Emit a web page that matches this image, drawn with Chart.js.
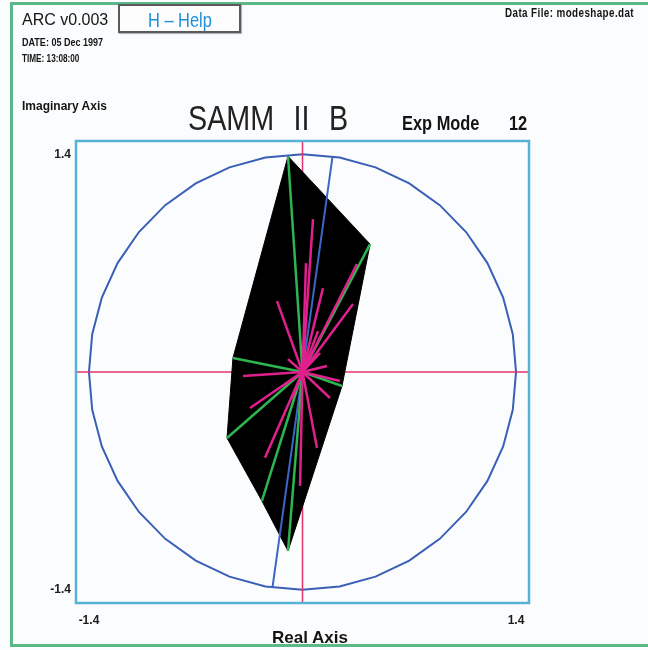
<!DOCTYPE html>
<html>
<head>
<meta charset="utf-8">
<title>SAMM II B - Exp Mode 12</title>
<script src="https://cdn.jsdelivr.net/npm/chart.js@4/dist/chart.umd.min.js"></script>
<style>
  html, body { margin: 0; padding: 0; background: #fbfcfd; }
  #wrap { position: relative; width: 648px; height: 650px; overflow: hidden; background: #fbfcfd; }
  #frame { position: absolute; left: 10px; top: 2px; width: 700px; height: 639px;
           border: 3px solid #5cb888; border-right: none; }
  #plot { position: absolute; left: 0; top: 0; }
  .t { position: absolute; white-space: pre; line-height: 1; color: #141414;
       font-family: "Liberation Sans", Arial, sans-serif; }
  .n { transform: scaleX(0.82); transform-origin: 0 0; }
  .b { font-weight: bold; }
  #help { position: absolute; left: 118px; top: 4px; width: 119px; height: 25px;
          border: 2px solid #5a5a5a; background: #fdfdfe; box-shadow: 1px 1px 1px #b8b8b8;
          display: flex; justify-content: center; align-items: flex-start; }
  #help span { display: inline-block; margin-top: 4px; transform: scaleX(0.82); transform-origin: 50% 0;
               font-family: "Liberation Sans", Arial, sans-serif;
               font-size: 20px; line-height: 1; color: #1f8fd8; white-space: pre; }
</style>
</head>
<body>
<div id="wrap">
  <div id="frame"></div>
  <canvas id="plot" width="648" height="650"></canvas>

  <div class="t" style="left:22px;top:12px;font-size:16px;">ARC v0.003</div>
  <div id="help"><span>H – Help</span></div>
  <div class="t n b" style="left:22px;top:37px;font-size:11px;">DATE: 05 Dec 1997</div>
  <div class="t n b" style="left:22px;top:54px;font-size:10px;">TIME: 13:08:00</div>
  <div class="t n b" style="left:505px;top:7px;font-size:12px;letter-spacing:0.5px;">Data File: modeshape.dat</div>

  <div class="t b" style="left:22px;top:100px;font-size:12px;">Imaginary Axis</div>
  <div class="t n" style="left:188px;top:100px;font-size:35px;word-spacing:14px;color:#222;">SAMM II B</div>
  <div class="t n b" style="left:402px;top:113px;font-size:20px;">Exp Mode</div>
  <div class="t n b" style="left:509px;top:113px;font-size:20px;">12</div>
  <div class="t b" style="left:272px;top:629px;font-size:17px;">Real Axis</div>
</div>

<script>
// Axis range and the two labelled ticks on each axis
const axisLimit = 1.485;
const tickValues = [-1.4, 1.4];
const tickLabels = ['-1.4', '1.4'];

// Reference circle (radius of the outer ring)
const circleRadius = 1.4;
const circleSides = 36;

// Measured mode shape components (green vectors), listed around the outline
const modeRe = [-0.095, 0.443, 0.259, -0.095, -0.266, -0.495, -0.456];
const modeIm = [ 1.387, 0.822, -0.090, -1.150, -0.829, -0.424,  0.090];

// Individual response points (magenta vectors)
const pointRe = [0.069, 0.023, 0.134, 0.357, 0.331, -0.167, -0.390, -0.344, -0.246,
                 -0.016, 0.095, 0.180, 0.246, -0.095, -0.128, 0.115, 0.102, -0.069, 0.161];
const pointIm = [0.983, 0.700, 0.539, 0.694, 0.437, 0.456, -0.026, -0.231, -0.552,
                 -0.732, -0.488, -0.167, -0.058, 0.083, -0.090, 0.122, 0.263, -0.173, 0.039];

// Principal direction line (blue)
const lineRe = [0.197, -0.197];
const lineIm = [1.386, -1.386];

const colors = {
  axisLine: '#e2336b',
  outline: '#000000',
  principal: '#3d66c8',
  mode: '#2fb550',
  point: '#e0208c',
  circle: '#3a5fb6',
  frame: '#58b2d6'
};

// Closed outline through the mode vector tips
const outline = modeRe.map((re, i) => ({ x: re, y: modeIm[i] }));
outline.push({ x: modeRe[0], y: modeIm[0] });

const spoke = (re, im, color, order) => ({
  data: [{ x: 0, y: 0 }, { x: re, y: im }],
  showLine: true, borderColor: color, borderWidth: 2.5,
  pointRadius: 0, fill: false, order
});

const datasets = [];
pointRe.forEach((re, i) => datasets.push(spoke(re, pointIm[i], colors.point, 1)));
modeRe.forEach((re, i) => datasets.push(spoke(re, modeIm[i], colors.mode, 2)));
datasets.push({
  data: lineRe.map((re, i) => ({ x: re, y: lineIm[i] })),
  showLine: true, borderColor: colors.principal, borderWidth: 2,
  pointRadius: 0, fill: false, order: 3
});
datasets.push({
  data: outline,
  showLine: true, borderColor: colors.outline, borderWidth: 1,
  backgroundColor: colors.outline, pointRadius: 0, fill: 'shape', tension: 0, order: 4
});
datasets.push({
  data: [{ x: -axisLimit, y: 0 }, { x: axisLimit, y: 0 }],
  showLine: true, borderColor: colors.axisLine, borderWidth: 1.5,
  pointRadius: 0, fill: false, order: 5
});
datasets.push({
  data: [{ x: 0, y: -axisLimit }, { x: 0, y: axisLimit }],
  showLine: true, borderColor: colors.axisLine, borderWidth: 1.5,
  pointRadius: 0, fill: false, order: 5
});

// Outer ring under the data, rectangular frame on top of it
const ringAndFrame = {
  id: 'ringAndFrame',
  beforeDatasetsDraw(chart) {
    const { ctx, scales: { x, y } } = chart;
    ctx.save();
    ctx.strokeStyle = colors.circle;
    ctx.lineWidth = 2;
    ctx.beginPath();
    for (let k = 0; k <= circleSides; k++) {
      const a = 2 * Math.PI * k / circleSides;
      const px = x.getPixelForValue(circleRadius * Math.cos(a));
      const py = y.getPixelForValue(circleRadius * Math.sin(a));
      if (k === 0) ctx.moveTo(px, py); else ctx.lineTo(px, py);
    }
    ctx.stroke();
    ctx.restore();
  },
  afterDatasetsDraw(chart) {
    const { ctx, chartArea: a } = chart;
    ctx.save();
    ctx.strokeStyle = colors.frame;
    ctx.lineWidth = 2.5;
    ctx.strokeRect(a.left, a.top, a.right - a.left, a.bottom - a.top);
    ctx.restore();
  }
};

const tickFont = { family: "'Liberation Sans', Arial, sans-serif", size: 12, weight: 'bold' };
const fixedTicks = axis => { axis.ticks = tickValues.map(v => ({ value: v })); };
const tickText = v => tickLabels[tickValues.indexOf(Math.round(v * 10) / 10)] ?? '';

new Chart(document.getElementById('plot'), {
  type: 'scatter',
  data: { datasets },
  options: {
    responsive: false,
    animation: false,
    layout: { padding: { top: 141, right: 119, left: 0, bottom: 0 } },
    plugins: { legend: { display: false }, tooltip: { enabled: false }, title: { display: false } },
    scales: {
      x: {
        type: 'linear', position: 'bottom', min: -axisLimit, max: axisLimit,
        afterBuildTicks: fixedTicks,
        afterFit: s => { s.height = 47; },
        grid: { display: false, drawTicks: false },
        border: { display: false },
        ticks: { padding: 10, color: '#1a1a1a', font: tickFont, maxRotation: 0,
                 autoSkip: false, callback: tickText }
      },
      y: {
        type: 'linear', position: 'left', min: -axisLimit, max: axisLimit,
        afterBuildTicks: fixedTicks,
        afterFit: s => { s.width = 76; },
        grid: { display: false, drawTicks: false },
        border: { display: false },
        ticks: { padding: 5, color: '#1a1a1a', font: tickFont,
                 autoSkip: false, callback: tickText }
      }
    }
  },
  plugins: [ringAndFrame]
});
</script>
</body>
</html>
